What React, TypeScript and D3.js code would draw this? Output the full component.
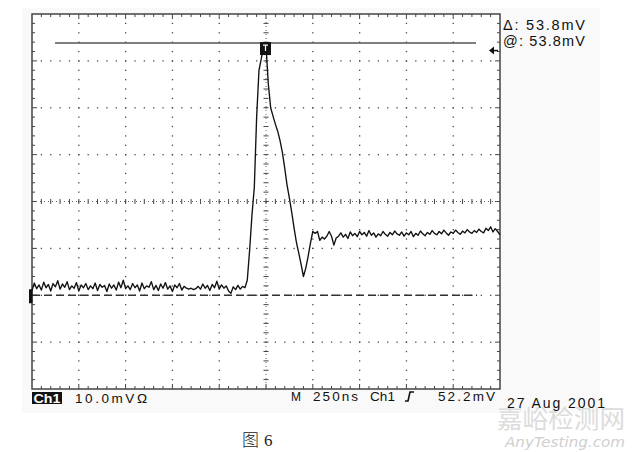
import React from "react";
import * as d3 from "d3";

// Oscilloscope capture: Ch1 10.0 mV/div, M 250 ns/div
const SAMPLE_NS = 12.5;
const START_NS = -1250;
const traceMv = [
  1.0, 2.6, 1.4, 2.2, 1.1, 2.8, 1.6, 2.3, 0.9, 2.5, 1.8, 3.1, 1.3, 2.4, 1.7, 2.9, 1.2, 2.0, 1.5, 2.7,
  0.9, 2.2, 1.6, 2.5, 1.2, 2.0, 1.4, 2.6, 1.0, 2.3, 1.7, 2.1, 0.8, 2.4, 1.5, 2.2, 1.1, 2.8, 1.6, 3.2,
  1.4, 2.0, 1.2, 2.5, 1.6, 2.2, 0.9, 2.6, 1.4, 2.0, 1.7, 2.9, 1.2, 2.1, 1.0, 2.4, 1.5, 2.7, 1.3, 2.0,
  0.8, 2.2, 1.6, 2.5, 1.1, 1.9, 1.5, 1.3, 1.5, 1.2, 1.4, 1.9, 1.3, 2.4, 1.5, 2.1, 1.0, 2.3, 1.6, 3.0,
  1.3, 2.2, 1.5, 2.0, 0.9, 0.4, 1.8, 1.2, 2.1, 1.3, 1.9, 1.6,
  3.2, 9.6, 17.1, 23.0, 38.0, 48.0, 50.5, 53.5, 53.2, 45.0, 40.0, 38.2, 36.5, 35.0, 33.0, 30.5, 27.1,
  23.5, 20.7, 17.7, 14.3, 11.3, 9.0, 6.6, 4.0, 5.8, 8.3, 11.1, 13.6, 13.2, 13.6, 11.7, 12.4, 12.0,
  12.6, 13.6, 12.6, 10.7, 12.2,
  12.6, 13.3, 12.4, 13.0, 12.1, 13.5, 12.7, 13.2, 12.5, 13.6, 12.9, 13.4, 12.6, 13.8, 12.8, 13.3,
  12.4, 13.1, 12.7, 13.6, 13.0, 12.6, 13.4, 12.9, 13.7, 13.1, 12.8, 13.5, 12.6, 13.3, 12.9, 13.6,
  12.5, 13.2, 12.8, 13.7, 13.1, 12.7, 13.4, 13.0, 13.8, 13.2, 12.9, 13.6, 13.1, 13.9, 13.3, 12.8,
  13.5, 13.2, 13.9, 13.4, 13.0, 13.7, 13.3, 14.0, 13.5, 13.2, 13.8, 13.4, 14.1, 13.6, 13.3, 14.3,
  13.8, 14.6, 13.5, 14.2, 13.6, 12.9,
];
const cursorMv = 53.8;
const triggerMv = 52.2;
const groundMv = 0;
const timeDomain = [-1250, 1250];
const voltDomain = [-20, 60];
const readoutLines = ["Δ: 53.8mV", "@: 53.8mV"];
const chLabel = "Ch1";
const scaleLabel = "10.0mVΩ";
const dateLabel = "27 Aug 2001";

const W = 640;
const H = 452;
const L = 32, R = 500, T = 14, B = 389;

export default function App() {
  const x = d3.scaleLinear().domain(timeDomain).range([L, R]);
  const y = d3.scaleLinear().domain(voltDomain).range([B, T]);
  const pts: [number, number][] = traceMv.map((v, i) => [START_NS + i * SAMPLE_NS, v]);
  const line = d3
    .line<[number, number]>()
    .x((d) => x(d[0]))
    .y((d) => y(d[1]));

  const majorT = d3.range(timeDomain[0], timeDomain[1] + 1, 250);
  const majorV = d3.range(voltDomain[0], voltDomain[1] + 1, 10);
  const minorT = d3.range(timeDomain[0], timeDomain[1] + 1, 50);
  const minorV = d3.range(voltDomain[0], voltDomain[1] + 0.1, 2);
  const centerT = 0;
  const centerV = 20;

  const dots: JSX.Element[] = [];
  majorT.slice(1, -1).forEach((t) => {
    if (t === centerT) return;
    minorV.slice(1, -1).forEach((v) => {
      dots.push(<rect key={`v${t}_${v}`} x={x(t) - 0.6} y={y(v) - 0.6} width={1.3} height={1.3} fill="#4a4a4a" />);
    });
  });
  majorV.slice(1, -1).forEach((v) => {
    if (v === centerV) return;
    minorT.slice(1, -1).forEach((t) => {
      dots.push(<rect key={`h${t}_${v}`} x={x(t) - 0.6} y={y(v) - 0.6} width={1.3} height={1.3} fill="#4a4a4a" />);
    });
  });

  const ticks: JSX.Element[] = [];
  minorT.slice(1, -1).forEach((t) => {
    const len = t % 250 === 0 ? 5 : 3;
    ticks.push(<line key={`tt${t}`} x1={x(t)} x2={x(t)} y1={T} y2={T + len} />);
    ticks.push(<line key={`tb${t}`} x1={x(t)} x2={x(t)} y1={B} y2={B - len} />);
    ticks.push(<line key={`tc${t}`} x1={x(t)} x2={x(t)} y1={y(centerV) - 2.5} y2={y(centerV) + 2.5} />);
  });
  minorV.slice(1, -1).forEach((v) => {
    const len = v % 10 === 0 ? 5 : 3;
    ticks.push(<line key={`tl${v}`} x1={L} x2={L + len} y1={y(v)} y2={y(v)} />);
    ticks.push(<line key={`tr${v}`} x1={R} x2={R - len} y1={y(v)} y2={y(v)} />);
    ticks.push(<line key={`tcv${v}`} x1={x(centerT) - 2.5} x2={x(centerT) + 2.5} y1={y(v)} y2={y(v)} />);
  });

  const yc = y(cursorMv);
  const yt = y(triggerMv);
  const yg = y(groundMv);
  const font = "'Liberation Sans', Arial, sans-serif";

  return (
    <svg
      width={W}
      height={H}
      viewBox={`0 0 ${W} ${H}`}
      style={{ position: "absolute", left: 0, top: 0, background: "#fff" }}
    >
      <rect x={22} y={8} width={578} height={405} fill="#f9f9f9" />
      <rect x={L} y={T} width={R - L} height={B - T} fill="#fff" />
      {dots}
      <g stroke="#444" strokeWidth={1}>{ticks}</g>
      <line x1={L} x2={R} y1={y(centerV)} y2={y(centerV)} stroke="#666" strokeWidth={1} strokeDasharray="1 3" />
      <line x1={x(centerT)} x2={x(centerT)} y1={T} y2={B} stroke="#666" strokeWidth={1} strokeDasharray="1 3" />
      <rect x={L} y={T} width={R - L} height={B - T} fill="none" stroke="#444" strokeWidth={1.5} />

      {/* ground reference dashed line */}
      <line x1={L} x2={477} y1={yg} y2={yg} stroke="#333" strokeWidth={1.3} strokeDasharray="8 4" />
      <rect x={29} y={yg - 6} width={3.5} height={14} fill="#111" />

      {/* cursor */}
      <line x1={55} x2={476} y1={yc} y2={yc} stroke="#555" strokeWidth={1.6} />

      {/* trace */}
      <path d={line(pts) || ""} fill="none" stroke="#111" strokeWidth={1.35} strokeLinejoin="round" />

      {/* trigger position marker */}
      <rect x={x(0) - 6} y={yc - 1} width={11} height={13} fill="#111" />
      <path d={`M${x(0) - 3},${yc + 2} H${x(0) + 2} M${x(0) - 0.5},${yc + 2} V${yc + 8}`} stroke="#fff" strokeWidth={1.2} />

      {/* trigger level arrow */}
      <path d={`M${489},${yt} L${494},${yt - 4} L${494},${yt + 4} Z`} fill="#111" />
      <line x1={493} x2={498} y1={yt} y2={yt} stroke="#111" strokeWidth={1.5} />

      {/* readouts */}
      <g fontFamily={font} fontSize={14.5} fill="#111">
        <text x={503} y={30} textLength={82} lengthAdjust="spacing">{readoutLines[0]}</text>
        <text x={503} y={46} textLength={82} lengthAdjust="spacing">{readoutLines[1]}</text>
      </g>

      <g fontFamily={font} fontSize={13.5} fill="#111">
        <rect x={32} y={392} width={30} height={12} fill="#111" />
        <text x={33.5} y={403} fill="#fff" fontWeight="bold" textLength={27} lengthAdjust="spacingAndGlyphs">{chLabel}</text>
        <text x={75} y={403} textLength={72} lengthAdjust="spacing">{scaleLabel}</text>
        <text x={291} y={401} textLength={10} lengthAdjust="spacingAndGlyphs">M</text>
        <text x={313} y={401} textLength={45} lengthAdjust="spacing">250ns</text>
        <text x={370} y={401} textLength={25} lengthAdjust="spacing">Ch1</text>
        <path d="M405,401 H408 L410,392 H414" fill="none" stroke="#111" strokeWidth={1.6} />
        <text x={438} y={401} textLength={57} lengthAdjust="spacing">52.2mV</text>
      </g>

      {/* watermark */}
      <text x={497} y={428} fontFamily="'Noto Sans CJK SC', sans-serif" fontSize={25} fill="#dcdcdc" textLength={128} lengthAdjust="spacingAndGlyphs">嘉峪检测网</text>
      <text x={505} y={447} fontFamily="'DejaVu Sans', sans-serif" fontStyle="italic" fontSize={14} fill="#cfcfcf" textLength={120} lengthAdjust="spacingAndGlyphs">AnyTesting.com</text>

      <text x={507} y={408} fontFamily={font} fontSize={14} fill="#111" textLength={98} lengthAdjust="spacing">{dateLabel}</text>

      <text x={242} y={446} fontSize={17} fill="#222" fontFamily="'Noto Sans CJK SC', serif" fontWeight={300}>图</text>
      <text x={264} y={446} fontSize={17} fill="#222" fontFamily="'Liberation Serif', serif">6</text>
    </svg>
  );
}
